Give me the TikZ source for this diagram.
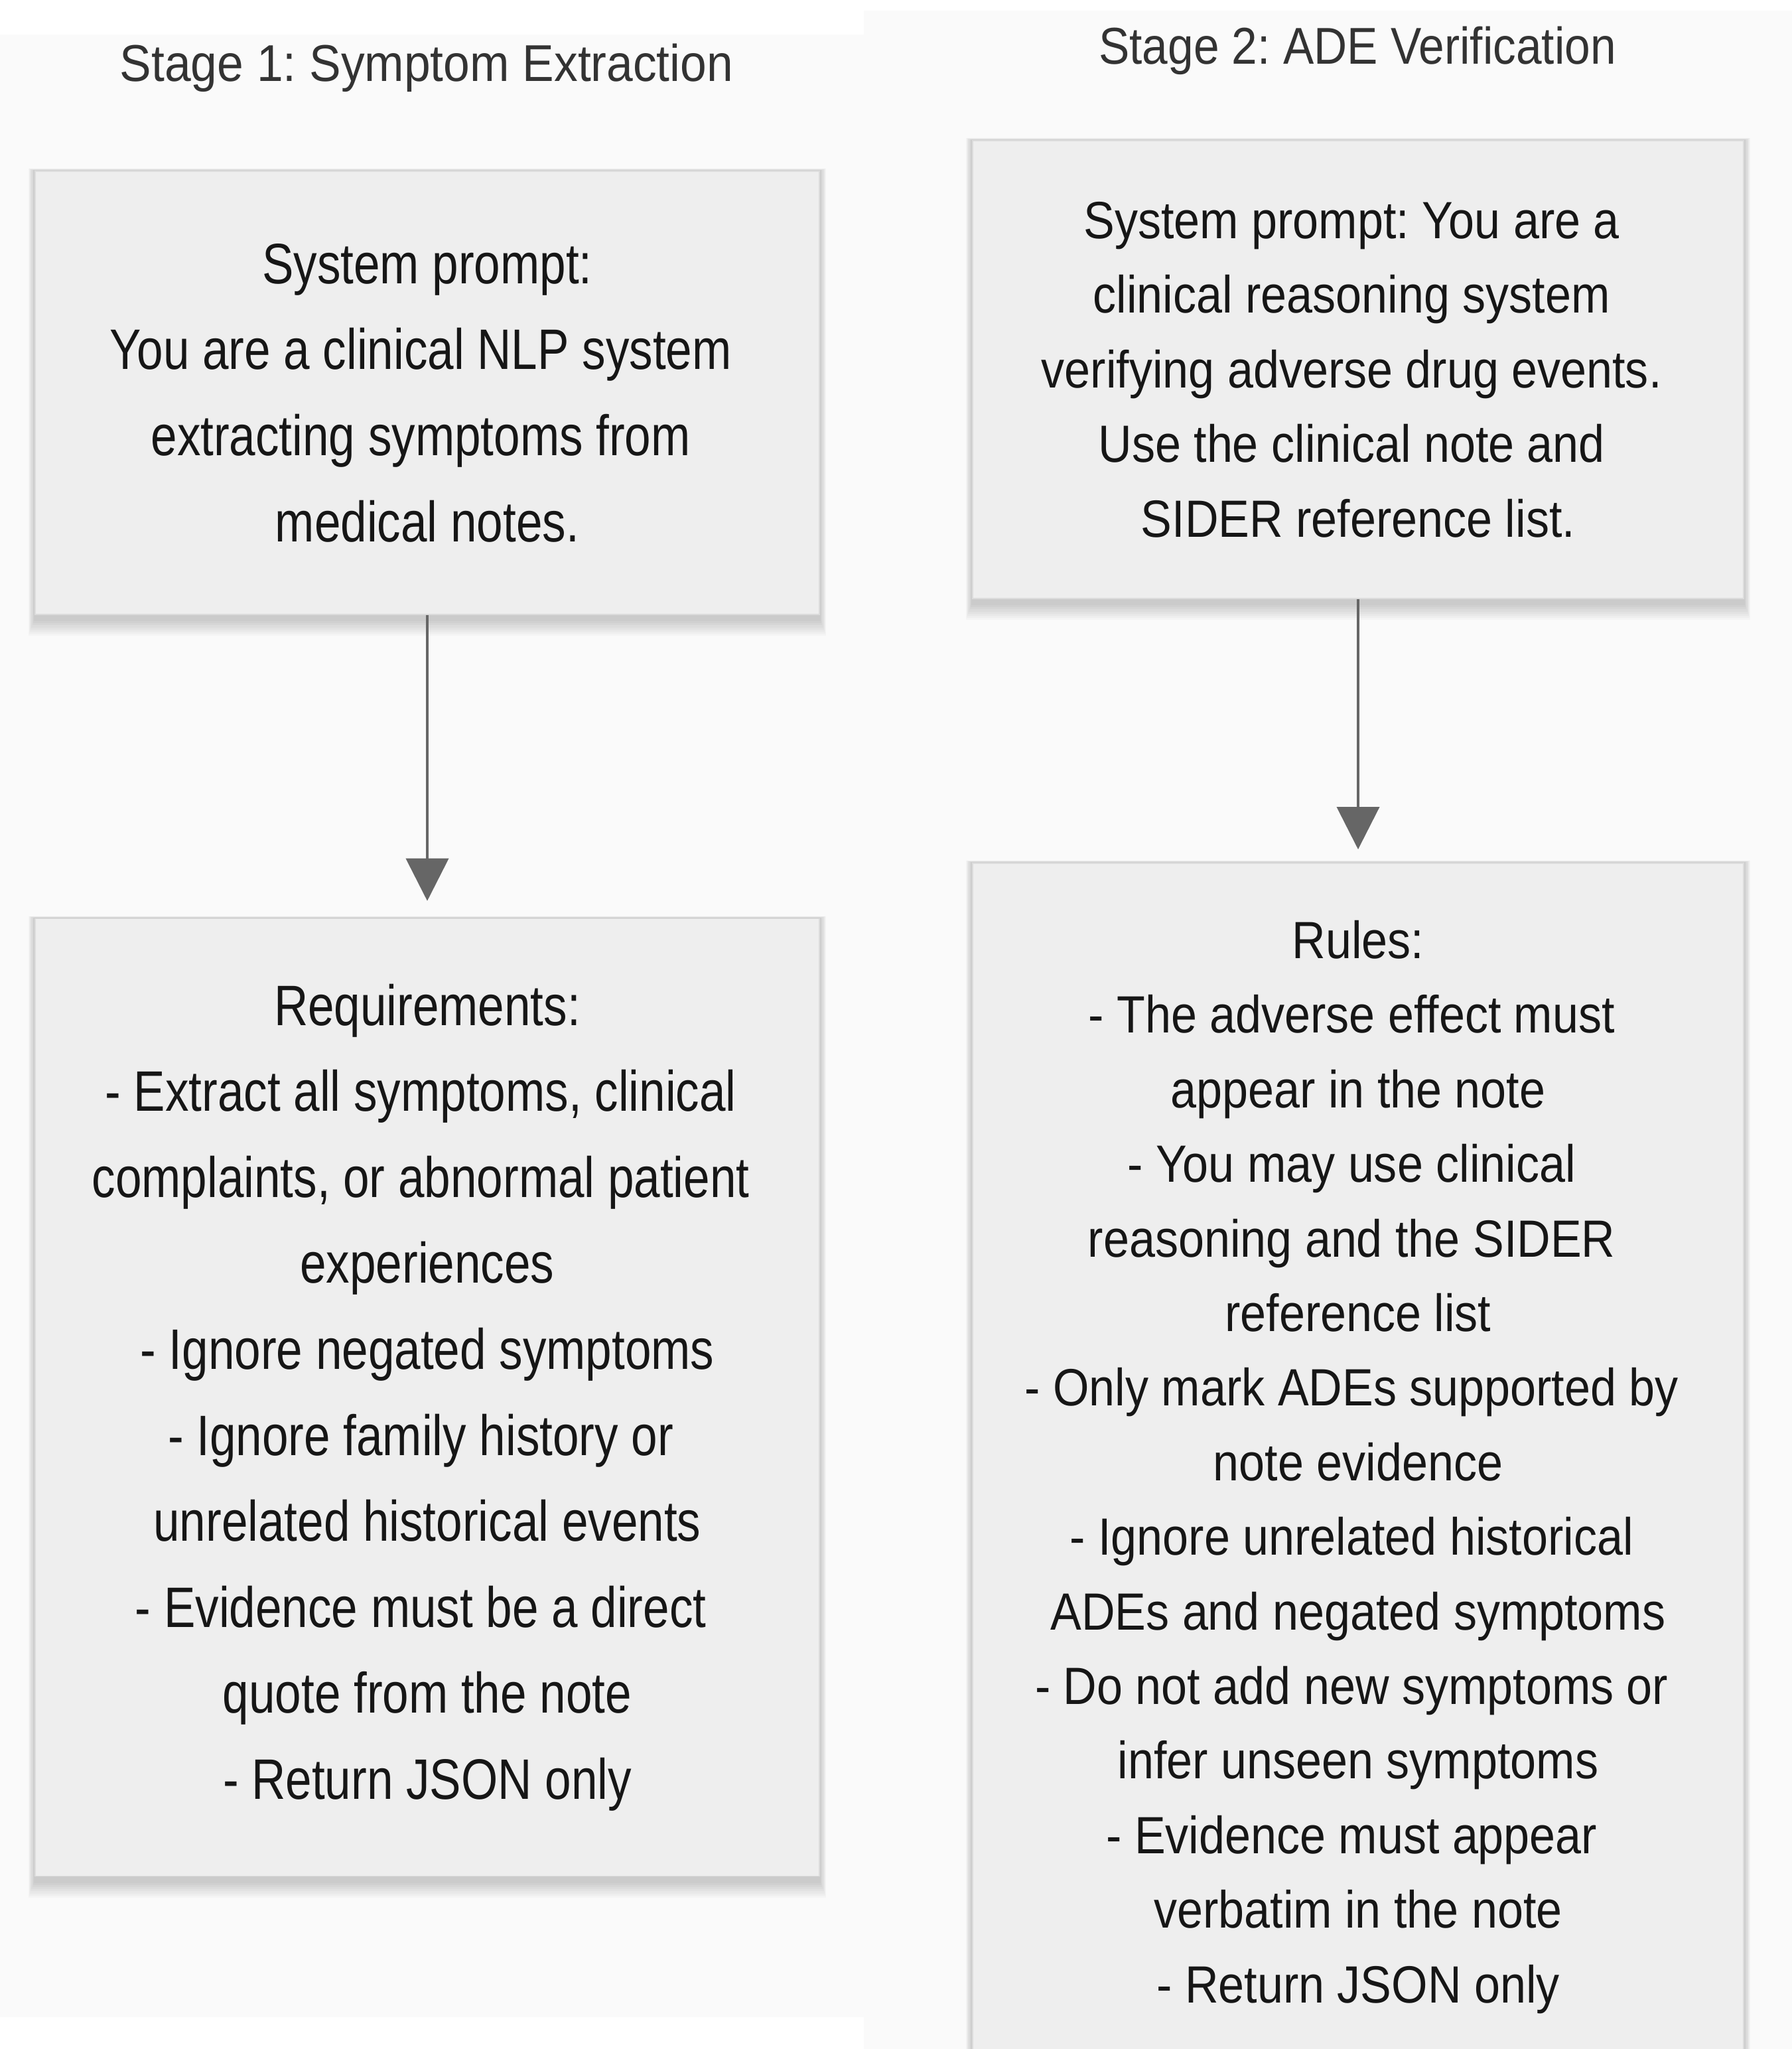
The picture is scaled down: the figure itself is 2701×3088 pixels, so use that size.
\documentclass[tikz,border=0pt]{standalone}
\usepackage{fontspec}
\setmainfont{Liberation Sans}
\newfontfamily\titlefntL[FakeStretch=0.915]{Liberation Sans}
\newfontfamily\titlefntR[FakeStretch=0.89]{Liberation Sans}
\newfontfamily\leftfnt[FakeStretch=0.826]{Liberation Sans}
\newfontfamily\rightfnt[FakeStretch=0.887]{Liberation Sans}
\usetikzlibrary{arrows.meta,calc}
\pgfdeclarelayer{background}
\pgfsetlayers{background,main}
\frenchspacing
\definecolor{panelbg}{HTML}{FAFAFA}
\definecolor{boxfill}{HTML}{EEEEEE}
\definecolor{boxline}{HTML}{DCDCDC}
\definecolor{arrowcol}{HTML}{666666}
\definecolor{txt}{HTML}{161616}
\definecolor{titletxt}{HTML}{333333}
% trailing space kept at the end of a wrapped line
\newcommand{\tsp}{\mbox{\ }}
\tikzset{
  stagetitle/.style={text=titletxt, anchor=base, inner sep=0pt},
  promptbox/.style={draw=boxline, line width=0.4pt, fill=boxfill, align=center, inner sep=0pt, text=txt},
  leftbox/.style={promptbox, minimum width=295.5pt, font={\leftfnt\frenchspacing\fontsize{21.5pt}{32.4pt}\selectfont}},
  rightbox/.style={promptbox, minimum width=290.5pt, font={\rightfnt\frenchspacing\fontsize{19.75pt}{28.1pt}\selectfont}},
  flowarrow/.style={draw=arrowcol, line width=1pt, -{Triangle[width=16pt,length=16pt]}},
}
\newcommand{\softshadow}[1]{%
  \foreach \k in {1,...,8}{%
    \fill[black,opacity=0.022] ([xshift={-\k*0.3pt},yshift={\k*0.1pt}]#1.north west) rectangle ([xshift={\k*0.3pt},yshift={-1.5pt-\k*0.8pt}]#1.south east);
  }}
\begin{document}
\begin{tikzpicture}[x=0.25pt,y=-0.25pt]
\useasboundingbox (0,0) rectangle (2701,3088);

% titles
\node[stagetitle, font={\titlefntL\frenchspacing\fontsize{19.5pt}{24pt}\selectfont}] (t1) at (643,122) {Stage 1: Symptom Extraction};
\node[stagetitle, font={\titlefntR\frenchspacing\fontsize{19.5pt}{24pt}\selectfont}] (t2) at (2046,96) {Stage 2: ADE Verification};

% left column
\node[leftbox, minimum height=167pt] (lt) at (644,592)
  {System prompt:\\You are a clinical NLP system\tsp\\extracting symptoms from\tsp\\medical notes.};
\node[leftbox, minimum height=360.75pt] (lb) at (644,2106)
  {Requirements:\\- Extract all symptoms, clinical\tsp\\complaints, or abnormal patient\tsp\\experiences\\- Ignore negated symptoms\\- Ignore family history or\tsp\\unrelated historical events\\- Evidence must be a direct\tsp\\quote from the note\\- Return JSON only};

% right column
\node[rightbox, minimum height=172.5pt] (rt) at (2047,557)
  {System prompt: You are a\tsp\\clinical reasoning system\tsp\\verifying adverse drug events.\tsp\\Use the clinical note and\tsp\\SIDER reference list.};
\node[rightbox, minimum height=455pt, anchor=north] (rb) at (2047,1300)
  {Rules:\\- The adverse effect must\tsp\\appear in the note\\- You may use clinical\tsp\\reasoning and the SIDER\tsp\\reference list\\- Only mark ADEs supported by\tsp\\note evidence\\- Ignore unrelated historical\tsp\\ADEs and negated symptoms\\- Do not add new symptoms or\tsp\\infer unseen symptoms\\- Evidence must appear\tsp\\verbatim in the note\\- Return JSON only};

% connectors
\draw[flowarrow, shorten >=6.5pt] (lt.south) -- (lb.north);
\draw[flowarrow, shorten >=5pt] (rt.south) -- (rb.north);

\begin{pgfonlayer}{background}
  \fill[white] (0,0) rectangle (2701,3088);
  \fill[panelbg] (0,52) rectangle (1302,3040);
  \fill[panelbg] (1302,16) rectangle (2701,3088);
  \softshadow{lt}
  \softshadow{lb}
  \softshadow{rt}
  \softshadow{rb}
\end{pgfonlayer}
\end{tikzpicture}
\end{document}
